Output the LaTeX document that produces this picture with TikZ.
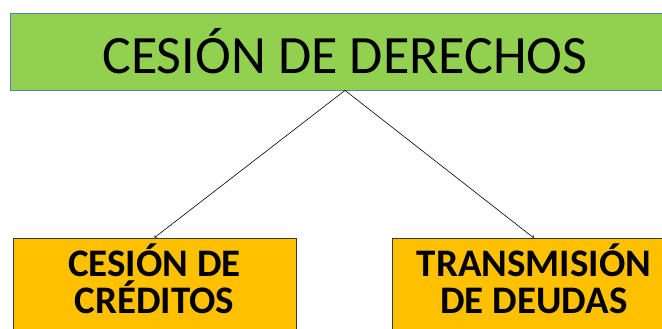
\documentclass[tikz,border=0pt]{standalone}
\usepackage{fontspec}
\setmainfont{Carlito}
\definecolor{topgreen}{HTML}{92D050}
\definecolor{topline}{HTML}{5B7DB8}
\definecolor{boxorange}{HTML}{FFC000}
\definecolor{boxline}{HTML}{3A3A3A}
\begin{document}
\begin{tikzpicture}[
        x=1pt, y=1pt,
        greenn/.style={fill=topgreen, draw=topline, minimum width=670pt, minimum height=77pt,
            font=\fontsize{54}{60}\selectfont},
        orangen/.style={fill=boxorange, draw=boxline, minimum width=283pt, minimum height=101pt,
            align=center, text depth=20pt, font=\bfseries\fontsize{39}{37}\selectfont},
        every node/.style={inner sep=0pt, line width=0.8pt},
        arr/.style={draw, ->, line width=0.6pt},
    ]
    \useasboundingbox (0,0) rectangle (662,329);
    \node[greenn](root) at (345,277.5){CESIÓN DE DERECHOS};
    \node[orangen](creditos) at (154.5,40.5){CESIÓN DE\\CRÉDITOS};
    \node[orangen](deudas) at (534,40){TRANSMISIÓN\\DE DEUDAS};
    \draw[arr] (root.south) -- (creditos.north);
    \draw[arr] (root.south) -- (deudas.north);
\end{tikzpicture}
\end{document}
